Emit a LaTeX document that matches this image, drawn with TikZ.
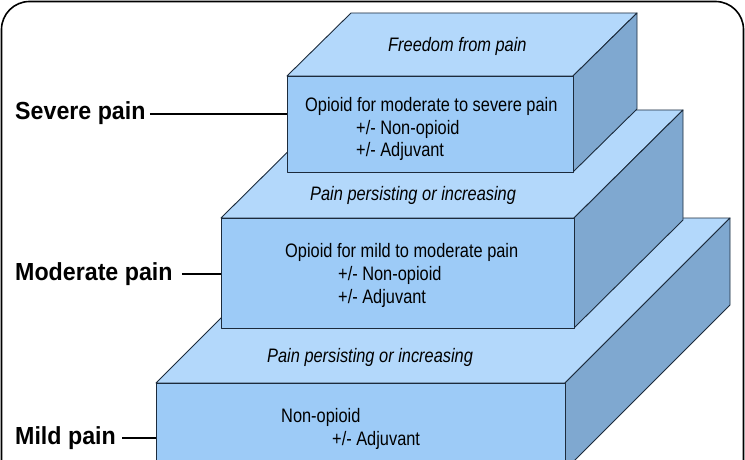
\documentclass[tikz,border=0pt]{standalone}
\usepackage{fontspec}
\newfontfamily\boxfont[FakeStretch=0.84]{Liberation Sans}
\newfontfamily\labfont[FakeStretch=0.94]{Liberation Sans}
\definecolor{topc}{HTML}{B3D8FB}
\definecolor{frontc}{HTML}{9DCBF7}
\definecolor{sidec}{HTML}{7FA8D0}
\definecolor{edgec}{HTML}{1C2B3C}
\begin{document}
\begin{tikzpicture}[x=1pt,y=-1pt,
  face/.style={draw=edgec, line width=0.9pt, line join=round},
  boxtxt/.style={inner sep=0pt, anchor=base west, font=\boxfont\fontsize{19.5}{22}\selectfont},
  stepnote/.style={inner sep=0pt, anchor=base west, font=\boxfont\itshape\fontsize{19.5}{22}\selectfont},
  lab/.style={inner sep=0pt, anchor=base west, font=\labfont\bfseries\fontsize{24.7}{28}\selectfont},
  conn/.style={draw=black, line width=1.8pt}]
\useasboundingbox (0,0) rectangle (745,460);
\clip (0,0) rectangle (745,460);
\fill[white] (0,0) rectangle (745,460);

% ---- bottom step (mild pain)
\coordinate (Cftl) at (156,383); \coordinate (Cftr) at (565,383);
\coordinate (Cfbl) at (156,470); \coordinate (Cfbr) at (565,470);
\coordinate (Cbtl) at (321,218); \coordinate (Cbtr) at (730,218);
\coordinate (Cbbr) at (730,305);
\filldraw[face, fill=topc] (Cftl) -- (Cbtl) -- (Cbtr) -- (Cftr) -- cycle;
\filldraw[face, fill=sidec] (Cftr) -- (Cbtr) -- (Cbbr) -- (Cfbr) -- cycle;
\filldraw[face, fill=frontc] (Cftl) rectangle (Cfbr);

% ---- middle step (moderate pain)
\coordinate (Bftl) at (221,218); \coordinate (Bftr) at (574,218);
\coordinate (Bfbl) at (221,328); \coordinate (Bfbr) at (574,328);
\coordinate (Bbtl) at (330,110); \coordinate (Bbtr) at (683,110);
\coordinate (Bbbr) at (683,220);
\filldraw[face, fill=topc] (Bftl) -- (Bbtl) -- (Bbtr) -- (Bftr) -- cycle;
\filldraw[face, fill=sidec] (Bftr) -- (Bbtr) -- (Bbbr) -- (Bfbr) -- cycle;
\filldraw[face, fill=frontc] (Bftl) rectangle (Bfbr);

% ---- top step (severe pain)
\coordinate (Aftl) at (287,76); \coordinate (Aftr) at (573,76);
\coordinate (Afbl) at (287,172); \coordinate (Afbr) at (573,172);
\coordinate (Abtl) at (351,13); \coordinate (Abtr) at (637,13);
\coordinate (Abbr) at (637,109);
\filldraw[face, fill=topc] (Aftl) -- (Abtl) -- (Abtr) -- (Aftr) -- cycle;
\filldraw[face, fill=sidec] (Aftr) -- (Abtr) -- (Abbr) -- (Afbr) -- cycle;
\filldraw[face, fill=frontc] (Aftl) rectangle (Afbr);

% ---- texts on the steps
\node[stepnote] (n0) at (388,52) {Freedom from pain};
\node[boxtxt] (a1) at (305,112) {Opioid for moderate to severe pain};
\node[boxtxt] (a2) at (356,135) {+/- Non-opioid};
\node[boxtxt] (a3) at (356,157) {+/- Adjuvant};

\node[stepnote] (n1) at (310,200) {Pain persisting or increasing};
\node[boxtxt] (b1) at (285,257) {Opioid for mild to moderate pain};
\node[boxtxt] (b2) at (338,280) {+/- Non-opioid};
\node[boxtxt] (b3) at (338,303) {+/- Adjuvant};

\node[stepnote] (n2) at (267,362) {Pain persisting or increasing};
\node[boxtxt] (c1) at (281,422) {Non-opioid};
\node[boxtxt] (c2) at (332,445) {+/- Adjuvant};

% ---- level labels
\node[lab] (sev) at (15,120) {Severe pain};
\node[lab] (mod) at (15,280) {Moderate pain};
\node[lab] (mil) at (15,444) {Mild pain};
\draw[conn, shorten <=4pt] (sev.east) -- (sev.east -| Aftl);
\draw[conn, shorten <=9pt] (mod.east) -- (mod.east -| Bftl);
\draw[conn, shorten <=6pt] (mil.east) -- (mil.east -| Cftl);

% ---- frame
\draw[line width=1.6pt, rounded corners=28pt] (1.5,1.5) rectangle (743.5,520);
\end{tikzpicture}
\end{document}
